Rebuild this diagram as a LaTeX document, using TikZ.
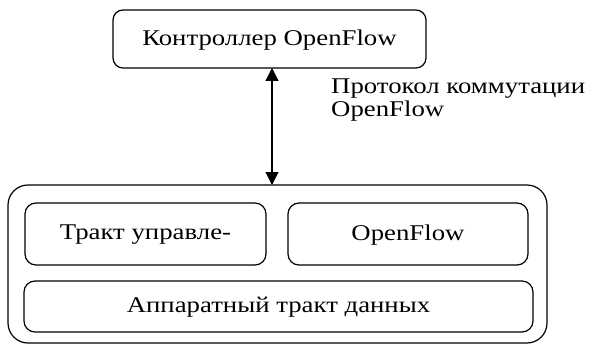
\documentclass[tikz,border=0pt]{standalone}
\usepackage{fontspec}
\setmainfont{Liberation Serif}
\newfontfamily\refserif[FakeStretch=1.19]{Liberation Serif}
\usetikzlibrary{arrows.meta}
\begin{document}
\begin{tikzpicture}[x=1pt,y=-1pt,
  box/.style={draw,line width=1.2pt,rounded corners=11pt},
  lbl/.style={font=\refserif\fontsize{22.5}{23}\selectfont,inner sep=0pt},
  tip/.tip={Triangle[length=13pt,width=13pt]}]
\useasboundingbox (0,0) rectangle (589,345);
\draw[box,rounded corners=10pt] (113,10) rectangle (426,68);
\node[lbl] (ctrl) at (269.5,40) {Контроллер OpenFlow};
\coordinate (ctrlb) at (272,68);
\draw[box,rounded corners=20pt] (8,185) rectangle (547,343);
\coordinate (swt) at (272,185);
\draw[box] (25,203) rectangle (266,265);
\node[lbl] (tr) at (145.5,235) {Тракт управле-};
\draw[box] (288,203) rectangle (528,265);
\node[lbl] (of) at (408,235) {OpenFlow};
\draw[box] (24,281) rectangle (533,332);
\node[lbl] (hw) at (278.5,307) {Аппаратный тракт данных};
\draw[line width=1.2pt,tip-tip] (ctrlb) -- (swt);
\node[lbl,anchor=base west,align=left] (proto) at (331,116) {Протокол коммутации\\OpenFlow};
\end{tikzpicture}
\end{document}
